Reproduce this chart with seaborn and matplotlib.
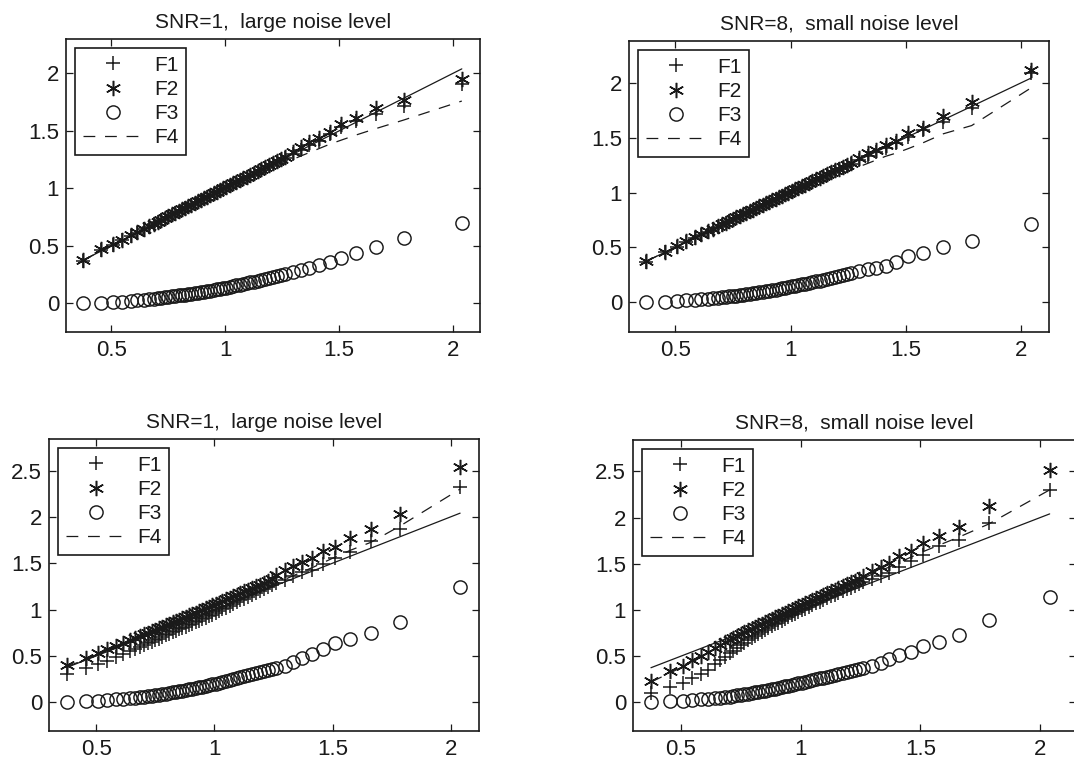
import matplotlib
matplotlib.use("Agg")
import numpy as np
import pandas as pd
import matplotlib.pyplot as plt
import seaborn as sns

# ---------------- data ----------------
# sorted sample positions, shared x of all four panels
x_vals = [0.375, 0.456, 0.507, 0.547, 0.584, 0.613, 0.643, 0.665, 0.685,
          0.703, 0.719, 0.735, 0.750, 0.765, 0.780, 0.795, 0.809, 0.823, 0.837,
          0.851, 0.865, 0.879, 0.893, 0.907, 0.921, 0.935, 0.949, 0.963, 0.977,
          0.991, 1.005, 1.019, 1.034, 1.049, 1.064, 1.079, 1.094, 1.110, 1.126,
          1.142, 1.158, 1.175, 1.192, 1.209, 1.226, 1.243,
          1.262, 1.297, 1.334, 1.370, 1.412, 1.459, 1.510, 1.576, 1.662, 1.785, 2.040]

# top left: SNR=1
tl_f1 = [0.372, 0.462, 0.510, 0.549, 0.586, 0.615, 0.645, 0.667, 0.687,
         0.705, 0.721, 0.737, 0.752, 0.767, 0.782, 0.797, 0.811, 0.825, 0.839,
         0.853, 0.867, 0.881, 0.895, 0.909, 0.923, 0.937, 0.951, 0.965, 0.979,
         0.993, 1.007, 1.021, 1.036, 1.051, 1.066, 1.081, 1.096, 1.112, 1.128,
         1.144, 1.160, 1.177, 1.194, 1.211, 1.228, 1.245,
         1.262, 1.300, 1.335, 1.375, 1.410, 1.470, 1.530, 1.590, 1.650, 1.720, 1.905]
tl_f2 = [0.378, 0.470, 0.515, 0.553, 0.590, 0.620, 0.650, 0.672, 0.692,
         0.711, 0.727, 0.743, 0.758, 0.773, 0.788, 0.803, 0.817, 0.831, 0.845,
         0.859, 0.873, 0.887, 0.901, 0.915, 0.929, 0.943, 0.957, 0.971, 0.985,
         0.999, 1.013, 1.028, 1.043, 1.058, 1.073, 1.088, 1.103, 1.119, 1.135,
         1.151, 1.167, 1.184, 1.201, 1.218, 1.235, 1.252,
         1.275, 1.318, 1.360, 1.400, 1.440, 1.490, 1.560, 1.616, 1.700, 1.773, 1.953]
tl_f3 = [0.000, 0.005, 0.010, 0.015, 0.020, 0.025, 0.030, 0.035, 0.040,
         0.044, 0.048, 0.052, 0.056, 0.060, 0.064, 0.068, 0.072, 0.076, 0.080,
         0.084, 0.088, 0.092, 0.097, 0.101, 0.106, 0.111, 0.116, 0.121, 0.126,
         0.131, 0.137, 0.143, 0.149, 0.155, 0.161, 0.168, 0.175, 0.182, 0.189,
         0.197, 0.205, 0.213, 0.221, 0.229, 0.237, 0.245,
         0.254, 0.270, 0.288, 0.310, 0.335, 0.355, 0.390, 0.435, 0.490, 0.565, 0.700]
tl_f4 = [0.375, 0.456, 0.507, 0.547, 0.584, 0.613, 0.643, 0.665, 0.685,
         0.703, 0.719, 0.735, 0.750, 0.765, 0.780, 0.795, 0.809, 0.823, 0.837,
         0.851, 0.865, 0.879, 0.893, 0.907, 0.920, 0.933, 0.946, 0.959, 0.972,
         0.985, 0.998, 1.010, 1.023, 1.036, 1.049, 1.062, 1.075, 1.089, 1.103,
         1.117, 1.131, 1.146, 1.161, 1.176, 1.191, 1.206,
         1.222, 1.252, 1.283, 1.312, 1.346, 1.384, 1.420, 1.465, 1.520, 1.595, 1.760]

# top right: SNR=8
tr_f1 = [0.372, 0.456, 0.508, 0.550, 0.587, 0.615, 0.645, 0.667, 0.687,
         0.705, 0.721, 0.737, 0.752, 0.767, 0.782, 0.797, 0.811, 0.825, 0.839,
         0.853, 0.867, 0.881, 0.895, 0.909, 0.923, 0.937, 0.951, 0.965, 0.979,
         0.993, 1.007, 1.021, 1.036, 1.051, 1.066, 1.081, 1.096, 1.112, 1.128,
         1.144, 1.160, 1.177, 1.194, 1.211, 1.228, 1.245,
         1.262, 1.297, 1.330, 1.370, 1.410, 1.450, 1.510, 1.570, 1.640, 1.770, 2.090]
tr_f2 = [0.378, 0.462, 0.512, 0.555, 0.592, 0.620, 0.650, 0.672, 0.692,
         0.711, 0.727, 0.743, 0.758, 0.773, 0.788, 0.803, 0.817, 0.831, 0.845,
         0.859, 0.873, 0.887, 0.901, 0.915, 0.929, 0.943, 0.957, 0.971, 0.985,
         0.999, 1.013, 1.028, 1.043, 1.058, 1.073, 1.088, 1.103, 1.119, 1.135,
         1.151, 1.167, 1.184, 1.201, 1.218, 1.235, 1.252,
         1.272, 1.310, 1.360, 1.390, 1.430, 1.470, 1.540, 1.590, 1.700, 1.820, 2.120]
tr_f3 = [0.000, 0.006, 0.012, 0.017, 0.022, 0.027, 0.032, 0.037, 0.042,
         0.046, 0.050, 0.054, 0.058, 0.062, 0.066, 0.070, 0.074, 0.078, 0.082,
         0.087, 0.091, 0.096, 0.101, 0.106, 0.111, 0.116, 0.121, 0.127, 0.133,
         0.139, 0.145, 0.151, 0.157, 0.163, 0.170, 0.177, 0.184, 0.191, 0.198,
         0.206, 0.214, 0.222, 0.230, 0.239, 0.248, 0.256,
         0.265, 0.282, 0.300, 0.312, 0.330, 0.370, 0.420, 0.450, 0.503, 0.555, 0.715]
tr_f4 = [0.375, 0.456, 0.507, 0.547, 0.584, 0.613, 0.643, 0.665, 0.685,
         0.703, 0.719, 0.735, 0.750, 0.765, 0.780, 0.795, 0.809, 0.823, 0.837,
         0.851, 0.865, 0.879, 0.893, 0.907, 0.920, 0.933, 0.946, 0.959, 0.972,
         0.985, 0.997, 1.009, 1.021, 1.033, 1.045, 1.057, 1.069, 1.082, 1.095,
         1.108, 1.121, 1.135, 1.149, 1.163, 1.177, 1.191,
         1.207, 1.235, 1.265, 1.295, 1.330, 1.360, 1.400, 1.455, 1.535, 1.610, 1.950]

# bottom left: SNR=1
bl_f1 = [0.300, 0.370, 0.410, 0.450, 0.490, 0.520, 0.550, 0.575, 0.597,
         0.617, 0.635, 0.653, 0.670, 0.687, 0.704, 0.721, 0.737, 0.753, 0.769,
         0.785, 0.801, 0.817, 0.833, 0.849, 0.865, 0.881, 0.897, 0.913, 0.929,
         0.945, 0.965, 0.983, 1.002, 1.021, 1.040, 1.059, 1.078, 1.098, 1.118,
         1.138, 1.158, 1.179, 1.200, 1.221, 1.242, 1.263,
         1.285, 1.320, 1.360, 1.400, 1.430, 1.490, 1.560, 1.620, 1.740, 1.870, 2.320]
bl_f2 = [0.400, 0.480, 0.530, 0.572, 0.610, 0.640, 0.670, 0.693, 0.714,
         0.733, 0.750, 0.767, 0.783, 0.799, 0.815, 0.831, 0.846, 0.861, 0.876,
         0.891, 0.906, 0.921, 0.936, 0.952, 0.967, 0.982, 0.998, 1.013, 1.029,
         1.044, 1.060, 1.076, 1.092, 1.109, 1.126, 1.143, 1.160, 1.178, 1.196,
         1.214, 1.232, 1.251, 1.270, 1.290, 1.310, 1.330,
         1.375, 1.430, 1.470, 1.510, 1.560, 1.630, 1.680, 1.770, 1.870, 2.030, 2.540]
bl_f3 = [0.000, 0.010, 0.018, 0.025, 0.032, 0.038, 0.045, 0.050, 0.055,
         0.060, 0.065, 0.070, 0.076, 0.082, 0.088, 0.094, 0.100, 0.106, 0.112,
         0.118, 0.124, 0.131, 0.138, 0.145, 0.152, 0.160, 0.168, 0.176, 0.184,
         0.192, 0.201, 0.210, 0.219, 0.228, 0.238, 0.248, 0.258, 0.268, 0.279,
         0.290, 0.301, 0.312, 0.323, 0.334, 0.345, 0.356,
         0.370, 0.395, 0.430, 0.480, 0.520, 0.575, 0.635, 0.680, 0.745, 0.866, 1.245]
bl_f4 = [0.385, 0.462, 0.511, 0.550, 0.587, 0.616, 0.646, 0.668, 0.688,
         0.706, 0.722, 0.738, 0.753, 0.768, 0.783, 0.798, 0.812, 0.826, 0.840,
         0.854, 0.868, 0.882, 0.896, 0.910, 0.924, 0.938, 0.953, 0.967, 0.982,
         0.996, 1.011, 1.026, 1.042, 1.058, 1.074, 1.090, 1.106, 1.123, 1.140,
         1.157, 1.174, 1.192, 1.210, 1.228, 1.246, 1.264,
         1.285, 1.325, 1.365, 1.405, 1.450, 1.505, 1.565, 1.640, 1.725, 1.900, 2.300]

# bottom right: SNR=8
br_f1 = [0.100, 0.165, 0.205, 0.260, 0.310, 0.355, 0.410, 0.455, 0.495,
         0.530, 0.560, 0.590, 0.618, 0.645, 0.670, 0.695, 0.718, 0.740, 0.762,
         0.783, 0.804, 0.824, 0.844, 0.864, 0.884, 0.903, 0.922, 0.941, 0.960,
         0.978, 0.996, 1.014, 1.033, 1.052, 1.071, 1.090, 1.109, 1.128, 1.147,
         1.166, 1.185, 1.204, 1.223, 1.242, 1.261, 1.280,
         1.300, 1.330, 1.365, 1.400, 1.460, 1.530, 1.600, 1.690, 1.760, 1.940, 2.300]
br_f2 = [0.235, 0.335, 0.395, 0.455, 0.505, 0.548, 0.590, 0.620, 0.648,
         0.672, 0.694, 0.716, 0.737, 0.758, 0.778, 0.798, 0.816, 0.834, 0.852,
         0.869, 0.886, 0.903, 0.920, 0.937, 0.954, 0.971, 0.988, 1.005, 1.022,
         1.039, 1.056, 1.073, 1.091, 1.109, 1.127, 1.145, 1.163, 1.182, 1.201,
         1.220, 1.239, 1.259, 1.279, 1.299, 1.319, 1.339,
         1.370, 1.420, 1.470, 1.510, 1.580, 1.640, 1.720, 1.800, 1.900, 2.130, 2.520]
br_f3 = [0.000, 0.012, 0.020, 0.027, 0.034, 0.040, 0.047, 0.052, 0.058,
         0.063, 0.069, 0.075, 0.081, 0.087, 0.094, 0.101, 0.107, 0.114, 0.121,
         0.128, 0.135, 0.142, 0.149, 0.157, 0.165, 0.173, 0.181, 0.189, 0.197,
         0.205, 0.214, 0.223, 0.232, 0.241, 0.250, 0.259, 0.268, 0.278, 0.288,
         0.298, 0.308, 0.318, 0.328, 0.338, 0.348, 0.358,
         0.370, 0.395, 0.430, 0.465, 0.510, 0.545, 0.610, 0.650, 0.724, 0.896, 1.136]
br_f4 = [0.220, 0.320, 0.385, 0.445, 0.497, 0.540, 0.582, 0.612, 0.640,
         0.664, 0.686, 0.708, 0.728, 0.748, 0.768, 0.788, 0.806, 0.824, 0.842,
         0.859, 0.876, 0.893, 0.910, 0.927, 0.944, 0.961, 0.978, 0.995, 1.012,
         1.029, 1.046, 1.063, 1.081, 1.099, 1.117, 1.135, 1.153, 1.172, 1.191,
         1.210, 1.229, 1.248, 1.267, 1.286, 1.305, 1.324,
         1.345, 1.385, 1.425, 1.465, 1.515, 1.570, 1.630, 1.700, 1.790, 1.930, 2.300]

series_names = ["F1", "F2", "F3", "F4"]
title_snr1 = "SNR=1,  large noise level"
title_snr8 = "SNR=8,  small noise level"

x_ticks = [0.5, 1, 1.5, 2]
x_tick_labels = ["0.5", "1", "1.5", "2"]
y_ticks_top = [0, 0.5, 1, 1.5, 2]
y_tick_labels_top = ["0", "0.5", "1", "1.5", "2"]
y_ticks_bottom = [0, 0.5, 1, 1.5, 2, 2.5]
y_tick_labels_bottom = ["0", "0.5", "1", "1.5", "2", "2.5"]

# ---------------- style ----------------
sns.set_theme(style="ticks")
plt.rcParams['font.family'] = ['Liberation Sans', 'DejaVu Sans']
plt.rcParams['lines.scale_dashes'] = False

FS = 15
TICK_FS = 16
INK = "#1a1a1a"
DASH = (0, (8.5, 7))


def draw_panel(ax, f1, f2, f3, f4, title, xlim, ylim, yticks, ylabels):
    df = pd.DataFrame({"x": x_vals, "F1": f1, "F2": f2, "F3": f3, "F4": f4})
    common = dict(ax=ax, estimator=None, errorbar=None, sort=False, legend=False, color="k")
    handles = []

    sns.lineplot(data=df, x="x", y="F1", marker="+", linestyle="", markersize=10.5,
                 mew=1.1, mec="k", **common)
    handles.append(ax.lines[-1])
    sns.lineplot(data=df, x="x", y="F2", marker=(6, 2, 0), linestyle="", markersize=11,
                 mew=1.1, mec="k", **common)
    handles.append(ax.lines[-1])
    sns.lineplot(data=df, x="x", y="F3", marker="o", linestyle="", markersize=9.5,
                 mew=1.05, mec="k", mfc="none", **common)
    handles.append(ax.lines[-1])
    sns.lineplot(data=df, x="x", y="F4", linestyle=DASH, linewidth=0.9, **common)
    handles.append(ax.lines[-1])
    # reference line y = x
    sns.lineplot(data=df, x="x", y="x", linewidth=0.9, **common)

    ax.set_xlim(*xlim)
    ax.set_ylim(*ylim)
    ax.set_xticks(x_ticks)
    ax.set_xticklabels(x_tick_labels)
    ax.set_yticks(yticks)
    ax.set_yticklabels(ylabels)
    ax.set_xlabel("")
    ax.set_ylabel("")
    ax.tick_params(direction="in", top=True, right=True, length=5, width=0.9,
                   labelsize=TICK_FS, color="k", labelcolor=INK)
    ax.tick_params(axis="x", pad=6)
    ax.tick_params(axis="y", pad=5)
    for sp in ax.spines.values():
        sp.set_visible(True)
        sp.set_color("k")
        sp.set_linewidth(1.2)
    ax.set_title(title, fontsize=FS, pad=8, color=INK)

    leg = ax.legend(handles, series_names, loc="upper left", fontsize=FS,
                    frameon=True, fancybox=False, edgecolor="k", framealpha=1,
                    handlelength=2.9, handletextpad=0.55, borderpad=0.35,
                    labelspacing=0.25, borderaxespad=0.45, numpoints=1)
    leg.get_frame().set_linewidth(1.2)
    for t in leg.get_texts():
        t.set_color(INK)


W, H = 1074, 760
fig = plt.figure(figsize=(W / 100, H / 100), dpi=100)
fig.patch.set_facecolor("white")


def box(x0, x1, y0, y1):
    return [x0 / W, 1 - y1 / H, (x1 - x0) / W, (y1 - y0) / H]


ax_tl = fig.add_axes(box(66, 480, 39, 332))
ax_tr = fig.add_axes(box(629, 1049, 41, 332))
ax_bl = fig.add_axes(box(49, 479, 439, 731))
ax_br = fig.add_axes(box(633, 1076, 440, 731))

draw_panel(ax_tl, tl_f1, tl_f2, tl_f3, tl_f4, title_snr1, (0.3, 2.12), (-0.25, 2.3),
           y_ticks_top, y_tick_labels_top)
draw_panel(ax_tr, tr_f1, tr_f2, tr_f3, tr_f4, title_snr8, (0.3, 2.12), (-0.27, 2.38),
           y_ticks_top, y_tick_labels_top)
draw_panel(ax_bl, bl_f1, bl_f2, bl_f3, bl_f4, title_snr1, (0.3, 2.12), (-0.31, 2.84),
           y_ticks_bottom, y_tick_labels_bottom)
draw_panel(ax_br, br_f1, br_f2, br_f3, br_f4, title_snr8, (0.3, 2.15), (-0.31, 2.84),
           y_ticks_bottom, y_tick_labels_bottom)

fig.savefig("out.png", dpi=100, facecolor="white")
